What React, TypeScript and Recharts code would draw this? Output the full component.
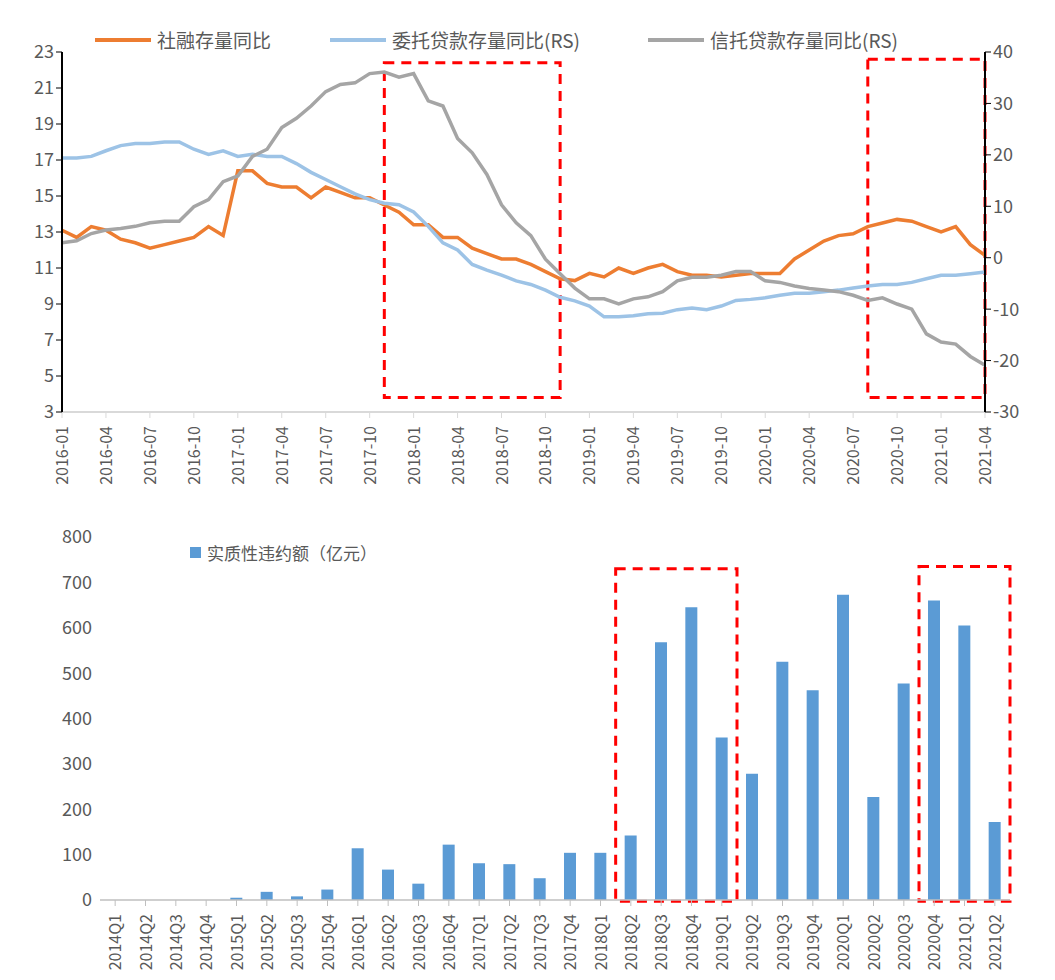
import React from 'react';
import { ComposedChart, BarChart, Bar, Line, XAxis, YAxis, ReferenceArea } from 'recharts';

const months: string[] = [];
for (let y = 2016; y <= 2021; y++) {
  for (let m = 1; m <= 12; m++) {
    if (y === 2021 && m > 4) break;
    months.push(`${y}-${String(m).padStart(2, '0')}`);
  }
}

// 社融存量同比 (left axis)
const tsfYoy = [13.1, 12.7, 13.3, 13.1, 12.6, 12.4, 12.1, 12.3, 12.5, 12.7, 13.3, 12.8, 16.4, 16.4, 15.7, 15.5,
  15.5, 14.9, 15.5, 15.2, 14.9, 14.9, 14.5, 14.1, 13.4, 13.4, 12.7, 12.7, 12.1, 11.8, 11.5, 11.5,
  11.2, 10.8, 10.4, 10.3, 10.7, 10.5, 11.0, 10.7, 11.0, 11.2, 10.8, 10.6, 10.6, 10.5, 10.6, 10.7,
  10.7, 10.7, 11.5, 12.0, 12.5, 12.8, 12.9, 13.3, 13.5, 13.7, 13.6, 13.3, 13.0, 13.3, 12.3, 11.7];

// 委托贷款存量同比 (right axis, RS)
const entrustedYoy = [19.4, 19.4, 19.7, 20.8, 21.8, 22.2, 22.2, 22.5, 22.5, 21.1, 20.1, 20.8, 19.7, 20.1, 19.7, 19.7,
  18.3, 16.6, 15.2, 13.8, 12.4, 11.3, 10.6, 10.3, 8.9, 6.1, 2.9, 1.5, -1.3, -2.4, -3.4, -4.5,
  -5.2, -6.3, -7.7, -8.4, -9.4, -11.5, -11.5, -11.3, -10.9, -10.8, -10.1, -9.8, -10.1, -9.4, -8.3, -8.1,
  -7.8, -7.3, -6.9, -6.9, -6.6, -6.3, -5.9, -5.5, -5.2, -5.2, -4.8, -4.1, -3.4, -3.4, -3.1, -2.8];

// 信托贷款存量同比 (right axis, RS)
const trustYoy = [2.9, 3.3, 4.7, 5.4, 5.7, 6.1, 6.8, 7.1, 7.1, 9.9, 11.3, 14.8, 15.9, 19.7, 21.1, 25.3,
  27.1, 29.5, 32.3, 33.7, 34.0, 35.8, 36.1, 35.1, 35.8, 30.5, 29.5, 23.2, 20.4, 16.2, 10.3, 6.8,
  4.3, -0.3, -3.1, -5.9, -8.0, -8.0, -9.0, -8.0, -7.6, -6.6, -4.5, -3.8, -3.8, -3.4, -2.7, -2.7,
  -4.5, -4.8, -5.5, -6.0, -6.3, -6.6, -7.3, -8.3, -7.8, -9.0, -10.0, -14.8, -16.4, -16.8, -19.2, -20.9];

const quarters: string[] = [];
for (let y = 2014; y <= 2021; y++) {
  for (let q = 1; q <= 4; q++) {
    if (y === 2021 && q > 2) break;
    quarters.push(`${y}Q${q}`);
  }
}

// 实质性违约额 (亿元)
const defaults = [0, 0, 0, 0, 5, 18, 8, 23, 114, 67, 36, 122, 81, 79, 48, 104,
  104, 142, 568, 645, 358, 278, 525, 462, 673, 227, 477, 660, 605, 172];

const leftTicks = [3, 5, 7, 9, 11, 13, 15, 17, 19, 21, 23];
const rightTicks = [-30, -20, -10, 0, 10, 20, 30, 40];
const barTicks = [0, 100, 200, 300, 400, 500, 600, 700, 800];

const topData = months.map((m, i) => ({
  month: m,
  tsf: tsfYoy[i],
  entrusted: entrustedYoy[i],
  trust: trustYoy[i],
}));

const bottomData = quarters.map((q, i) => ({ quarter: q, amount: defaults[i] }));

const font = '"Microsoft YaHei", "Noto Sans CJK SC", "DejaVu Sans", sans-serif';
const tickStyle = { fontSize: 18, fill: '#595959', fontFamily: font };
const boxStroke = { fill: 'none', stroke: '#ff0000', strokeWidth: 3, strokeDasharray: '10 7', fillOpacity: 0 };

const VerticalTick = (props: any) => {
  const { x, y, payload } = props;
  return (
    <text x={x} y={y + 6} transform={`rotate(-90 ${x} ${y + 6})`} textAnchor="end" dy={6}
      style={{ fontSize: 16, fill: '#595959', fontFamily: font }}>
      {payload.value}
    </text>
  );
};

const LineKey = ({ color, label, left }: { color: string; label: string; left: number }) => (
  <span style={{ position: 'absolute', left, top: 0, display: 'inline-flex', alignItems: 'center', whiteSpace: 'nowrap' }}>
    <svg width={56} height={10}><line x1={0} y1={5} x2={56} y2={5} stroke={color} strokeWidth={4} /></svg>
    <span style={{ marginLeft: 6 }}>{label}</span>
  </span>
);

export default function App() {
  return (
    <div style={{ position: 'absolute', left: 0, top: 0, width: 1055, height: 980, background: '#fff', fontFamily: font }}>
      <div style={{ position: 'absolute', left: 0, top: 0 }}>
        <ComposedChart width={1055} height={500} data={topData} margin={{ top: 52, right: 20, left: 22, bottom: 13 }}>
          <XAxis dataKey="month" interval={2} tick={<VerticalTick />} height={75}
            axisLine={{ stroke: '#d9d9d9', strokeWidth: 2 }} tickLine={{ stroke: '#d9d9d9' }} />
          <YAxis yAxisId="left" domain={[3, 23]} ticks={leftTicks} width={40} tick={tickStyle}
            axisLine={{ stroke: '#000', strokeWidth: 2 }} tickLine={{ stroke: '#000' }} />
          <YAxis yAxisId="right" orientation="right" domain={[-30, 40]} ticks={rightTicks} width={50} tick={tickStyle}
            axisLine={{ stroke: '#000', strokeWidth: 2 }} tickLine={{ stroke: '#000' }} />
          <Line yAxisId="left" dataKey="tsf" name="社融存量同比" stroke="#ED7D31" strokeWidth={3.5}
            dot={false} isAnimationActive={false} />
          <Line yAxisId="right" dataKey="entrusted" name="委托贷款存量同比(RS)" stroke="#9DC3E6" strokeWidth={3.5}
            dot={false} isAnimationActive={false} />
          <Line yAxisId="right" dataKey="trust" name="信托贷款存量同比(RS)" stroke="#A5A5A5" strokeWidth={3.5}
            dot={false} isAnimationActive={false} />
          <ReferenceArea yAxisId="left" x1="2017-11" x2="2018-11" y1={3.8} y2={22.4} {...boxStroke} ifOverflow="visible" />
          <ReferenceArea yAxisId="left" x1="2020-08" x2="2021-04" y1={3.8} y2={22.6} {...boxStroke} ifOverflow="visible" />
        </ComposedChart>
        <div style={{ position: 'absolute', top: 26, left: 0, width: 1055, height: 30, fontSize: 19, color: '#595959' }}>
          <LineKey color="#ED7D31" label="社融存量同比" left={95} />
          <LineKey color="#9DC3E6" label="委托贷款存量同比(RS)" left={330} />
          <LineKey color="#A5A5A5" label="信托贷款存量同比(RS)" left={648} />
        </div>
      </div>
      <div style={{ position: 'absolute', left: 0, top: 520 }}>
        <BarChart width={1055} height={460} data={bottomData} margin={{ top: 17, right: 45, left: 40, bottom: 0 }}>
          <XAxis dataKey="quarter" interval={0} tick={<VerticalTick />} height={80}
            axisLine={{ stroke: '#bfbfbf', strokeWidth: 1.5 }} tickLine={{ stroke: '#bfbfbf' }} />
          <YAxis domain={[0, 800]} ticks={barTicks} width={60} tick={tickStyle} axisLine={false} tickLine={false} />
          <Bar dataKey="amount" name="实质性违约额（亿元）" fill="#5B9BD5" barSize={12} isAnimationActive={false} />
          <ReferenceArea x1="2018Q2" x2="2019Q1" y1={-3} y2={730} {...boxStroke} ifOverflow="visible" />
          <ReferenceArea x1="2020Q4" x2="2021Q2" y1={-3} y2={735} {...boxStroke} ifOverflow="visible" />
        </BarChart>
        <div style={{ position: 'absolute', top: 20, left: 190, fontSize: 17, color: '#595959', display: 'flex', alignItems: 'center' }}>
          <span style={{ display: 'inline-block', width: 11, height: 11, background: '#5B9BD5', marginRight: 6 }} />
          实质性违约额（亿元）
        </div>
      </div>
    </div>
  );
}
